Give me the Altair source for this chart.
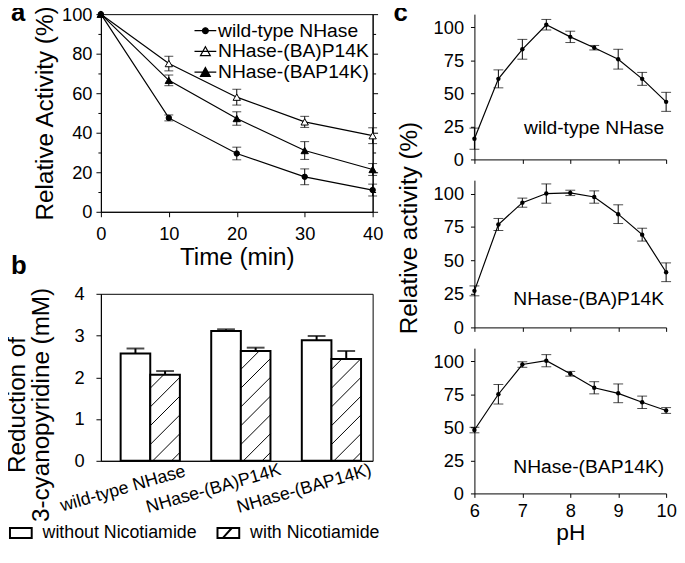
import json
import altair as alt
import pandas as pd

FONT = "Liberation Sans"
TICK_FS = 18.5
TITLE_FS = 24.5
TEXT_FS = 19.5
SMALL_FS = 18

# ---------------- panel a : activity vs time ----------------
a_time = [0, 10, 20, 30, 40]
a_names = ["wild-type NHase", "NHase-(BA)P14K", "NHase-(BAP14K)"]
a_wt = [100, 47.5, 29.5, 17.7, 11]
a_wt_err = [0, 1.5, 3.2, 4.0, 3.0]
a_ba = [100, 75, 58, 45.5, 38.5]
a_ba_err = [0, 3.7, 4.0, 2.8, 4.0]
a_bap = [100, 66.5, 47.2, 31, 21.4]
a_bap_err = [0, 2.7, 3.4, 4.5, 3.0]

# ---------------- panel b : reduction of 3-cyanopyridine ----------------
b_groups = ["wild-type NHase", "NHase-(BA)P14K", "NHase-(BAP14K)"]
b_conditions = ["without Nicotiamide", "with Nicotiamide"]
b_without = [2.57, 3.11, 2.89]
b_without_err = [0.12, 0.04, 0.10]
b_with = [2.06, 2.63, 2.44]
b_with_err = [0.09, 0.08, 0.19]

# ---------------- panel c : activity vs pH ----------------
c_ph = [6, 6.5, 7, 7.5, 8, 8.5, 9, 9.5, 10]
c_wt = [15.7, 61, 83.4, 102, 92.8, 84.6, 75.9, 61, 43.6]
c_wt_err = [8, 6.8, 7.5, 4, 4.3, 1.7, 7.5, 4.9, 7.2]
c_ba = [27.3, 76.9, 93.2, 100, 100.5, 97.4, 84.6, 69.3, 41.2]
c_ba_err = [3.7, 4.5, 3.4, 7.2, 2, 4.6, 7, 4.8, 7]
c_bap = [48, 75.1, 97.6, 100.5, 90.6, 80, 75.8, 69, 62.8]
c_bap_err = [2.1, 7.4, 2.1, 4.6, 1.8, 4.6, 7.1, 4.7, 2.2]
c_labels = ["wild-type NHase", "NHase-(BA)P14K", "NHase-(BAP14K)"]
c_label_y = [24, 21, 20]


def panel_letter(txt, px, py):
    return alt.Chart(pd.DataFrame({"t": [txt]})).mark_text(
        align="left", baseline="alphabetic", fontSize=26, fontWeight="bold", font=FONT, color="black"
    ).encode(x=alt.value(px), y=alt.value(py), text="t:N")


# ======================= panel a =======================
a_rows = []
for name, vals, errs in zip(a_names, [a_wt, a_ba, a_bap], [a_wt_err, a_ba_err, a_bap_err]):
    for t, v, e in zip(a_time, vals, errs):
        a_rows.append({"series": name, "t": t, "v": v, "lo": v - e, "hi": v + e, "e": e})
a_df = pd.DataFrame(a_rows)
a_err = a_df[a_df["e"] > 0]

xa_sc = alt.Scale(domain=[0, 40], nice=False)
ya_sc = alt.Scale(domain=[0, 100], nice=False)
xa_none = alt.X("t:Q", scale=xa_sc, axis=None)
major_a = [0, 20, 40, 60, 80, 100]
minor_a = [10, 30, 50, 70, 90]

a_line = alt.Chart(a_df).mark_line(color="black", strokeWidth=1.2).encode(
    x=alt.X("t:Q", scale=xa_sc, axis=alt.Axis(orient="bottom", values=a_time, title="Time (min)",
                                             tickSize=5, labelPadding=8, titlePadding=3,
                                             titleFontWeight="normal")),
    y=alt.Y("v:Q", scale=ya_sc, axis=alt.Axis(orient="left", values=major_a, tickSize=5,
                                             labelPadding=4, title="Relative Activity (%)",
                                             titlePadding=4, titleFontWeight="normal")),
    detail="series:N",
)
a_rule = alt.Chart(a_err).mark_rule(color="black", strokeWidth=1).encode(
    x=xa_none,
    y=alt.Y("lo:Q", scale=ya_sc, axis=alt.Axis(orient="left", values=minor_a, tickSize=3,
                                              labels=False, domain=False, title=None)),
    y2="hi:Q",
)
a_cap_lo = alt.Chart(a_err).mark_tick(color="black", orient="horizontal", size=9, thickness=1).encode(
    x=xa_none,
    y=alt.Y("lo:Q", scale=ya_sc, axis=alt.Axis(orient="right", values=major_a, tickSize=5,
                                              labels=False, title=None)),
)
a_cap_hi = alt.Chart(a_err).mark_tick(color="black", orient="horizontal", size=9, thickness=1).encode(
    x=xa_none,
    y=alt.Y("hi:Q", scale=ya_sc, axis=alt.Axis(orient="right", values=minor_a, tickSize=3,
                                              labels=False, domain=False, title=None)),
)
a_pts = []
for name, shp, fll, sz in zip(a_names, ["circle", "triangle-up", "triangle-up"],
                              ["black", "white", "black"], [30, 55, 55]):
    a_pts.append(
        alt.Chart(a_df).transform_filter(alt.datum.series == name)
        .mark_point(shape=shp, filled=True, fill=fll, stroke="black", strokeWidth=1, size=sz, opacity=1)
        .encode(x=xa_none, y=alt.Y("v:Q", scale=ya_sc, axis=None))
    )

a_leg_paths = [
    "M-1.26,0H1.26M0.34,0A0.34,0.34,0,1,1,-0.34,0A0.34,0.34,0,1,1,0.34,0Z",
    "M-1.26,0H1.26M-0.57,0.48L0.57,0.48L0,-0.55Z",
    "M-1.26,0H1.26M-0.57,0.48L0.57,0.48L0,-0.55Z",
]
a_legend = alt.Legend(title=None, orient="none", legendX=96, legendY=7, symbolSize=306,
                      symbolStrokeWidth=1.2, symbolOpacity=1,
                      labelFontSize=TEXT_FS, labelOffset=3, rowPadding=0, padding=0,
                      labelColor="black", labelFont=FONT, labelLimit=0)
a_leg = alt.Chart(a_df[a_df["t"] == 0]).mark_point(
    filled=False, stroke="black", strokeWidth=1.2, opacity=0
).encode(
    x=xa_none,
    y=alt.Y("v:Q", scale=ya_sc, axis=None),
    shape=alt.Shape("series:N", scale=alt.Scale(domain=a_names, range=a_leg_paths), legend=a_legend),
    fill=alt.Fill("series:N", scale=alt.Scale(domain=a_names, range=["black", "white", "black"]),
                  legend=a_legend),
)

panel_a = alt.layer(a_line, a_rule, a_cap_lo, a_cap_hi, *a_pts, a_leg,
                    panel_letter("a", -91, 7)).resolve_axis(
    x="independent", y="independent"
).properties(
    width=275, height=200,
    view=alt.ViewBackground(stroke="black", strokeWidth=1),
)

# ======================= panel b =======================
BW = 0.327
b_rows = []
for i, g in enumerate(b_groups):
    b_rows.append({"group": g, "cond": b_conditions[0], "x0": i - BW, "x1": i, "xc": i - BW / 2,
                   "v": b_without[i], "top": b_without[i] + b_without_err[i]})
    b_rows.append({"group": g, "cond": b_conditions[1], "x0": i, "x1": i + BW, "xc": i + BW / 2,
                   "v": b_with[i], "top": b_with[i] + b_with_err[i]})
b_df = pd.DataFrame(b_rows)

HATCH_RISE = 0.71
HATCH_GAP = 0.45
h_rows = []
for i, v in enumerate(b_with):
    k = 0
    while True:
        y0 = -HATCH_RISE + 0.2 + k * HATCH_GAP
        if y0 >= v:
            break
        t0 = max(0.0, (0 - y0) / HATCH_RISE)
        t1 = min(1.0, (v - y0) / HATCH_RISE)
        if t1 > t0:
            h_rows.append({"xa": i + t0 * BW, "xb": i + t1 * BW,
                           "ya": y0 + t0 * HATCH_RISE, "yb": y0 + t1 * HATCH_RISE})
        k += 1
h_df = pd.DataFrame(h_rows)

xb_sc = alt.Scale(domain=[-0.545, 2.455], nice=False)
yb_sc = alt.Scale(domain=[0, 4], nice=False)
label_expr = json.dumps(b_groups) + "[datum.value]"

b_bar = alt.Chart(b_df).mark_rect(fill="white", stroke="black", strokeWidth=2).encode(
    x=alt.X("x0:Q", scale=xb_sc,
            axis=alt.Axis(orient="bottom", values=[0, 1, 2], labelExpr=label_expr, ticks=False,
                          tickSize=0, labelAngle=344, labelAlign="center", labelBaseline="middle",
                          labelOffset=-28, labelPadding=28, labelFontSize=SMALL_FS,
                          labelOverlap=False, title=None)),
    x2="x1:Q",
    y=alt.Y("v:Q", scale=yb_sc,
            axis=alt.Axis(orient="left", values=[0, 1, 2, 3, 4], tickSize=5, labelPadding=12,
                          title=["Reduction of", "3-cyanopyridine (mM)"], titlePadding=21,
                          titleY=112, titleLineHeight=24, titleFontWeight="normal")),
    y2=alt.datum(0),
)
b_hatch = alt.Chart(h_df).mark_rule(color="black", strokeWidth=1).encode(
    x=alt.X("xa:Q", scale=xb_sc, axis=None), x2="xb:Q",
    y=alt.Y("ya:Q", scale=yb_sc, axis=None), y2="yb:Q",
)
b_err = alt.Chart(b_df).mark_rule(color="black", strokeWidth=2).encode(
    x=alt.X("xc:Q", scale=xb_sc, axis=None),
    y=alt.Y("v:Q", scale=yb_sc, axis=None), y2="top:Q",
)
b_cap = alt.Chart(b_df).mark_tick(color="black", orient="horizontal", size=18, thickness=2).encode(
    x=alt.X("xc:Q", scale=xb_sc, axis=None),
    y=alt.Y("top:Q", scale=yb_sc, axis=None),
)
b_leg_paths = ["M-2.2,-1H2.2V1H-2.2Z", "M-2.2,-1H2.2V1H-2.2ZM-1.1,1L0.7,-1"]
b_leg = alt.Chart(b_df).mark_point(filled=False, fill="white", stroke="black", strokeWidth=2,
                                   opacity=0).encode(
    x=alt.X("xc:Q", scale=xb_sc, axis=None),
    y=alt.Y("v:Q", scale=yb_sc, axis=None),
    shape=alt.Shape("cond:N", scale=alt.Scale(domain=b_conditions, range=b_leg_paths),
                    legend=alt.Legend(title=None, orient="none", direction="horizontal",
                                      legendX=-90, legendY=233, symbolSize=100,
                                      symbolStrokeWidth=2,
                                      symbolFillColor="white", symbolOpacity=1,
                                      labelFontSize=SMALL_FS, labelOffset=13, columnPadding=16,
                                      labelLimit=0, padding=0, labelColor="black",
                                      labelFont=FONT)),
)

panel_b = alt.layer(b_bar, b_hatch, b_err, b_cap, b_leg, panel_letter("b", -91, -20)).resolve_axis(
    x="independent", y="independent"
).properties(
    width=275, height=169,
    view=alt.ViewBackground(stroke="black", strokeWidth=1),
)

# ======================= panel c =======================
c_heights = [147, 149, 147]


def c_panel(idx, vals, errs):
    df = pd.DataFrame({"ph": c_ph, "v": vals,
                       "lo": [v - e for v, e in zip(vals, errs)],
                       "hi": [v + e for v, e in zip(vals, errs)]})
    xsc = alt.Scale(domain=[6, 10], nice=False)
    ysc = alt.Scale(domain=[0, 110], nice=False)
    last = idx == 2
    xax = dict(orient="bottom", values=[6, 7, 8, 9, 10], tickSize=4, labels=last, labelPadding=4)
    if last:
        xax.update(title="pH", titlePadding=2, titleFontWeight="normal", titleFontSize=23)
    else:
        xax.update(title=None)
    yax = dict(orient="left", values=[0, 25, 50, 75, 100], tickSize=4, labelPadding=7)
    if idx == 1:
        yax.update(title="Relative activity (%)", titlePadding=12, titleY=48,
                   titleFontWeight="normal")
    else:
        yax.update(title=None)
    xn = alt.X("ph:Q", scale=xsc, axis=None)
    line = alt.Chart(df).mark_line(color="black", strokeWidth=1.2).encode(
        x=alt.X("ph:Q", scale=xsc, axis=alt.Axis(**xax)),
        y=alt.Y("v:Q", scale=ysc, axis=alt.Axis(**yax)),
    )
    rule = alt.Chart(df).mark_rule(color="black", strokeWidth=1).encode(
        x=xn, y=alt.Y("lo:Q", scale=ysc, axis=None), y2="hi:Q")
    cap_lo = alt.Chart(df).mark_tick(color="black", orient="horizontal", size=10, thickness=1).encode(
        x=xn, y=alt.Y("lo:Q", scale=ysc, axis=None))
    cap_hi = alt.Chart(df).mark_tick(color="black", orient="horizontal", size=10, thickness=1).encode(
        x=xn, y=alt.Y("hi:Q", scale=ysc, axis=None))
    pts = alt.Chart(df).mark_point(shape="circle", filled=True, fill="black", size=20, opacity=1).encode(
        x=xn, y=alt.Y("v:Q", scale=ysc, axis=None))
    lab = alt.Chart(pd.DataFrame({"x": [10], "y": [c_label_y[idx]], "t": [c_labels[idx]]})).mark_text(
        align="right", baseline="middle", fontSize=TEXT_FS, font=FONT, color="black", dx=-2
    ).encode(x=alt.X("x:Q", scale=xsc, axis=None), y=alt.Y("y:Q", scale=ysc, axis=None), text="t:N")
    layers = [line, rule, cap_lo, cap_hi, pts, lab]
    if idx == 0:
        layers.append(panel_letter("c", -82, 7))
    return alt.layer(*layers).resolve_axis(x="independent", y="independent").properties(
        width=194, height=c_heights[idx])


c1 = c_panel(0, c_wt, c_wt_err)
c2 = c_panel(1, c_ba, c_ba_err)
c3 = c_panel(2, c_bap, c_bap_err)

left = alt.vconcat(panel_a, panel_b, spacing=83, bounds="flush").resolve_scale(
    shape="independent", fill="independent").resolve_legend(shape="independent", fill="independent")
right = alt.vconcat(c1, c2, c3, spacing=21, bounds="flush")

chart = alt.hconcat(left, right, spacing=10).resolve_scale(
    shape="independent", fill="independent").resolve_legend(shape="independent", fill="independent").properties(
    padding={"left": -4, "top": -12, "right": 0, "bottom": 0}
).configure(font=FONT).configure_axis(
    grid=False, domainColor="black", tickColor="black", labelColor="black", titleColor="black",
    labelFont=FONT, titleFont=FONT, labelFontSize=TICK_FS, titleFontSize=TITLE_FS,
    titleFontWeight="normal", domainWidth=1, tickWidth=1, labelFlush=False,
).configure_view(strokeWidth=0).configure_legend(labelFont=FONT, labelColor="black")

chart.save("out.html", embed_options={"renderer": "svg", "actions": False})
